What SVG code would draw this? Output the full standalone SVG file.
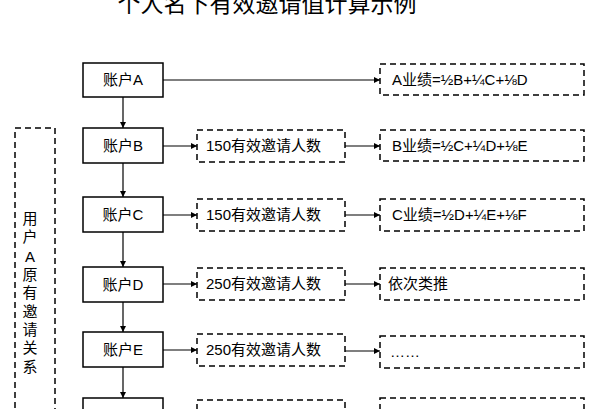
<svg xmlns="http://www.w3.org/2000/svg" width="595" height="409" viewBox="0 0 595 409">
<defs>
<style>
text{font-family:"Liberation Sans","Noto Sans CJK SC",sans-serif;fill:#000;}
.title{font-size:23px;text-anchor:middle;}
.node rect{fill:#fff;stroke:#000;stroke-width:1.5;}
.node text{font-size:15px;text-anchor:middle;}
.dash{fill:none;stroke:#000;stroke-width:1.5;stroke-dasharray:6 4;}
.lbl{font-size:15px;}
.side{font-size:15px;text-anchor:middle;}
.conn line{stroke:#000;stroke-width:1.2;marker-end:url(#ah);}
</style>
<marker id="ah" viewBox="0 0 6 6" refX="6" refY="3" markerWidth="6" markerHeight="6" markerUnits="userSpaceOnUse" orient="auto">
<path d="M0,0 L6,3 L0,6 Z" fill="#000"/>
</marker>
</defs>
<rect width="595" height="409" fill="#fff"/>
<text class="title" x="267" y="12">个人名下有效邀请值计算示例</text>

<g id="side">
<rect class="dash" x="15" y="128" width="40" height="300"/>
<text class="side" x="30" y="224">用</text>
<text class="side" x="30" y="242">户</text>
<text class="side" x="30" y="262">A</text>
<text class="side" x="30" y="280">原</text>
<text class="side" x="30" y="298">有</text>
<text class="side" x="30" y="317">邀</text>
<text class="side" x="30" y="335">请</text>
<text class="side" x="30" y="353">关</text>
<text class="side" x="30" y="372">系</text>
</g>

<g id="nodeA" class="node"><rect x="83" y="63" width="80" height="34"/><text x="123" y="85">账户A</text></g>
<g id="nodeB" class="node"><rect x="83" y="128" width="80" height="35"/><text x="123" y="151">账户B</text></g>
<g id="nodeC" class="node"><rect x="83" y="197" width="80" height="35"/><text x="123" y="220">账户C</text></g>
<g id="nodeD" class="node"><rect x="83" y="267" width="80" height="35"/><text x="123" y="290">账户D</text></g>
<g id="nodeE" class="node"><rect x="83" y="332" width="80" height="35"/><text x="123" y="355">账户E</text></g>
<g id="nodeF" class="node"><rect x="83" y="398" width="80" height="35"/></g>

<g id="invB"><rect class="dash" x="197" y="130" width="148" height="32"/><text class="lbl" x="206" y="151">150有效邀请人数</text></g>
<g id="invC"><rect class="dash" x="197" y="199" width="148" height="32"/><text class="lbl" x="206" y="220">150有效邀请人数</text></g>
<g id="invD"><rect class="dash" x="197" y="268" width="148" height="32"/><text class="lbl" x="206" y="289">250有效邀请人数</text></g>
<g id="invE"><rect class="dash" x="197" y="334" width="148" height="32"/><text class="lbl" x="206" y="355">250有效邀请人数</text></g>
<g id="invF"><rect class="dash" x="197" y="400" width="148" height="32"/></g>

<g id="perfA"><rect class="dash" x="380" y="64" width="204" height="31"/><text class="lbl" x="392" y="85">A业绩=½B+¼C+⅛D</text></g>
<g id="perfB"><rect class="dash" x="380" y="130" width="204" height="31"/><text class="lbl" x="392" y="151">B业绩=½C+¼D+⅛E</text></g>
<g id="perfC"><rect class="dash" x="380" y="199" width="204" height="32"/><text class="lbl" x="392" y="220">C业绩=½D+¼E+⅛F</text></g>
<g id="perfD"><rect class="dash" x="380" y="268" width="204" height="32"/><text class="lbl" x="388" y="289">依次类推</text></g>
<g id="perfE"><rect class="dash" x="380" y="336" width="204" height="32"/><text class="lbl" x="390" y="357">……</text></g>
<g id="perfF"><rect class="dash" x="380" y="398" width="204" height="32"/></g>

<g id="connectors" class="conn">
<line x1="163" y1="80" x2="380" y2="80"/>
<line x1="123" y1="97" x2="123" y2="128"/>
<line x1="123" y1="163" x2="123" y2="197"/>
<line x1="123" y1="232" x2="123" y2="267"/>
<line x1="123" y1="302" x2="123" y2="332"/>
<line x1="123" y1="367" x2="123" y2="398"/>
<line x1="163" y1="146" x2="197" y2="146"/>
<line x1="163" y1="215" x2="197" y2="215"/>
<line x1="163" y1="284" x2="197" y2="284"/>
<line x1="163" y1="350" x2="197" y2="350"/>
<line x1="345" y1="146" x2="380" y2="146"/>
<line x1="345" y1="215" x2="380" y2="215"/>
<line x1="345" y1="284" x2="380" y2="284"/>
<line x1="345" y1="351" x2="380" y2="351"/>
</g>
</svg>
